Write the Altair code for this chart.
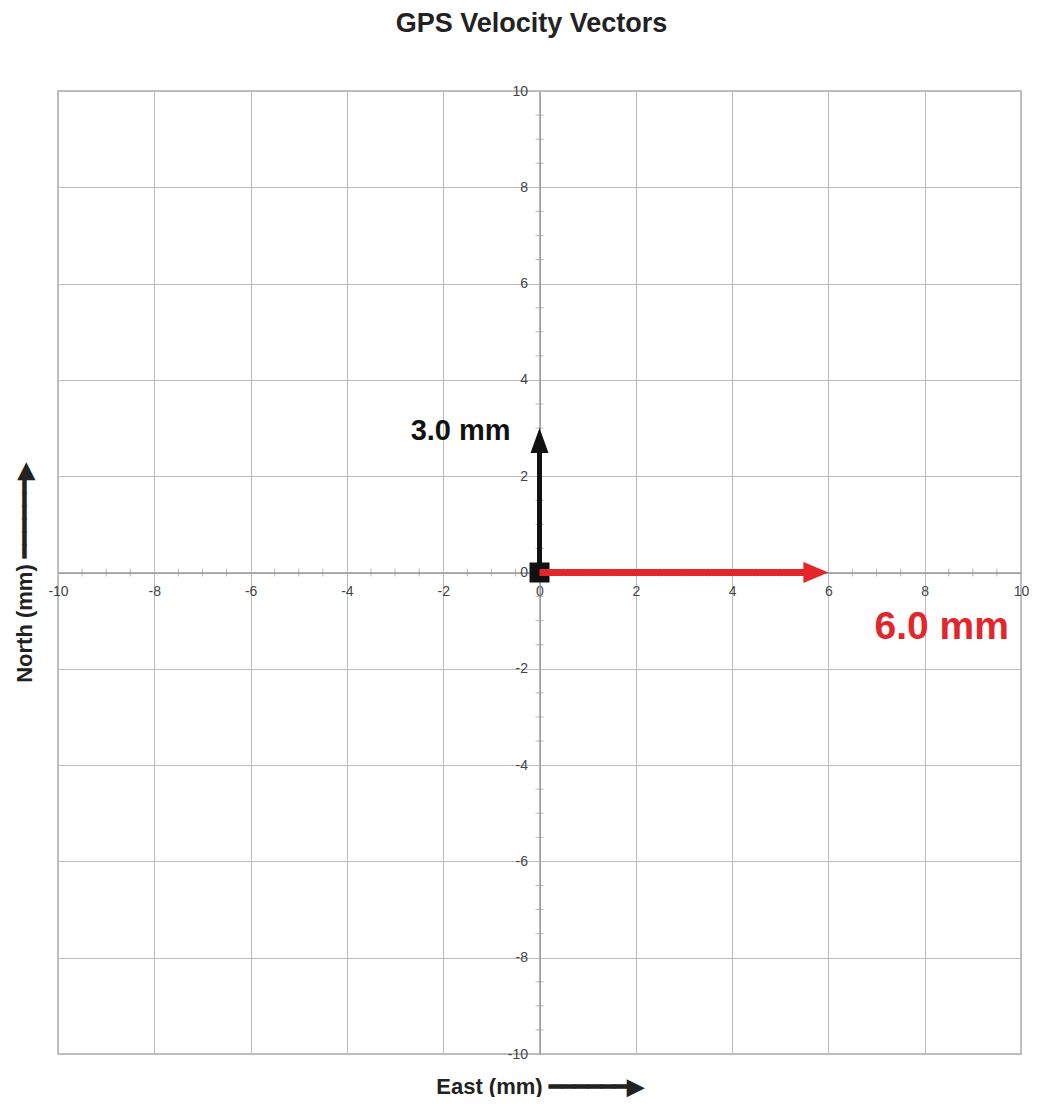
import altair as alt
import pandas as pd

# ---- data ----
major_ticks = [-10, -8, -6, -4, -2, 0, 2, 4, 6, 8, 10]
minor_ticks = [-9.5, -9, -8.5, -7.5, -7, -6.5, -5.5, -5, -4.5, -3.5, -3, -2.5,
               -1.5, -1, -0.5, 0.5, 1, 1.5, 2.5, 3, 3.5, 4.5, 5, 5.5,
               6.5, 7, 7.5, 8.5, 9, 9.5]

vector_names = ["North", "East"]
vector_east = [0.0, 6.0]
vector_north = [3.0, 0.0]
vector_labels = ["3.0 mm", "6.0 mm"]
label_east = [-0.6, 9.75]
label_north = [2.93, -1.14]

W, H = 963, 963
FONT = "Liberation Sans"
RED = "#e3262b"

vec = pd.DataFrame({
    "name": vector_names,
    "e": vector_east,
    "n": vector_north,
    "label": vector_labels,
    "le": label_east,
    "ln": label_north,
    "e0": [0.0, 0.0],
    "n0": [0.0, 0.0],
})
minor_x = pd.DataFrame({"e": minor_ticks, "n": [0.0] * len(minor_ticks)})
minor_y = pd.DataFrame({"e": [0.0] * len(minor_ticks), "n": minor_ticks})
origin = pd.DataFrame({"e": [0.0], "n": [0.0]})

xs = alt.Scale(domain=[-10, 10], nice=False, zero=False)
ys = alt.Scale(domain=[-10, 10], nice=False, zero=False)


def X(field):
    return alt.X(field, scale=xs, axis=None)


def Y(field):
    return alt.Y(field, scale=ys, axis=None)


# Outer axes: grid + titles only
grid_layer = alt.Chart(origin).mark_point(opacity=0).encode(
    x=alt.X("e:Q", scale=xs, axis=alt.Axis(
        orient="bottom", values=major_ticks, grid=True, gridColor="#bbbbbb",
        gridWidth=1, labels=False, ticks=False, domain=False,
        title="East (mm) ━━━━━━▶", titleFont=FONT, titleFontSize=22,
        titleFontWeight="bold", titleColor="#222", titlePadding=22)),
    y=alt.Y("n:Q", scale=ys, axis=alt.Axis(
        orient="left", values=major_ticks, grid=True, gridColor="#bbbbbb",
        gridWidth=1, labels=False, ticks=False, domain=False,
        title="North  (mm) ━━━━━━▶", titleFont=FONT, titleFontSize=22,
        titleFontWeight="bold", titleColor="#222", titlePadding=22)),
)

# Center axes crossing at the origin
center_x = alt.Chart(minor_x).mark_tick(orient="vertical", size=8, thickness=1, color="#999").encode(
    x=alt.X("e:Q", scale=xs, axis=alt.Axis(
        orient="bottom", offset=-H / 2, values=major_ticks, grid=False, ticks=False,
        domain=True, domainColor="#999", domainWidth=1.5, labels=True,
        labelFlush=False, labelOverlap=False, labelFont=FONT, labelFontSize=14,
        labelColor="#444", labelPadding=12, title=None,
        labelExpr="'' + datum.value")),
    y=alt.Y("n:Q", scale=ys, axis=alt.Axis(
        orient="left", offset=-W / 2, values=major_ticks, grid=False, ticks=False,
        domain=True, domainColor="#999", domainWidth=1.5, labels=True,
        labelFlush=False, labelOverlap=False, labelFont=FONT, labelFontSize=14,
        labelColor="#444", labelPadding=12, title=None,
        labelExpr="'' + datum.value")),
)
center_y = alt.Chart(minor_y).mark_tick(orient="horizontal", size=8, thickness=1, color="#999").encode(
    x=X("e:Q"), y=Y("n:Q"),
)

base = alt.Chart(vec)

north_shaft = base.transform_filter(alt.datum.name == "North").transform_calculate(
    n2="datum.n - 0.3").mark_rule(color="#111", strokeWidth=5).encode(
    x=X("e0:Q"), y=Y("n0:Q"), y2="n2:Q")
east_shaft = base.transform_filter(alt.datum.name == "East").transform_calculate(
    e2="datum.e - 0.3").mark_rule(color=RED, strokeWidth=7).encode(
    x=X("e0:Q"), x2="e2:Q", y=Y("n0:Q"))

north_head = base.transform_filter(alt.datum.name == "North").mark_point(
    shape="M0,0 L-0.36,1 L0.36,1 Z", size=2500, filled=True, opacity=1, color="#111").encode(
    x=X("e:Q"), y=Y("n:Q"))
east_head = base.transform_filter(alt.datum.name == "East").mark_point(
    shape="M0,0 L-1,-0.42 L-1,0.42 Z", size=2500, filled=True, opacity=1, color=RED).encode(
    x=X("e:Q"), y=Y("n:Q"))

origin_box = alt.Chart(origin).mark_point(
    shape="square", size=400, filled=True, opacity=1, color="#111").encode(
    x=X("e:Q"), y=Y("n:Q"))

north_label = base.transform_filter(alt.datum.name == "North").mark_text(
    align="right", baseline="middle", font=FONT, fontSize=29, fontWeight="bold", color="#111").encode(
    x=X("le:Q"), y=Y("ln:Q"), text="label:N")
east_label = base.transform_filter(alt.datum.name == "East").mark_text(
    align="right", baseline="middle", font=FONT, fontSize=39, fontWeight="bold", color=RED).encode(
    x=X("le:Q"), y=Y("ln:Q"), text="label:N")

chart = alt.layer(
    grid_layer, center_x, center_y, north_shaft, origin_box, east_shaft,
    north_head, east_head, north_label, east_label,
).resolve_axis(x="independent", y="independent").properties(
    width=W, height=H,
    padding={"left": 5, "top": 2, "right": 0, "bottom": 0},
    title=alt.TitleParams("GPS Velocity Vectors", font=FONT, fontSize=27,
                          fontWeight="bold", color="#222", anchor="middle",
                          offset=46, dx=-8),
).configure_view(stroke="#aaa", strokeWidth=1.5)

chart.save("out.html", embed_options={"renderer": "svg", "actions": False})
